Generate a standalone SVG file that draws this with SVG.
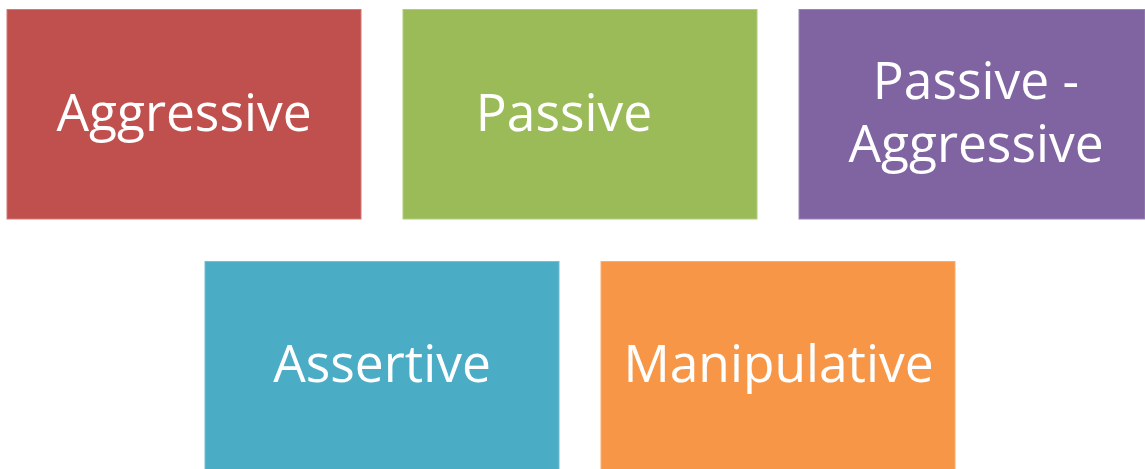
<svg xmlns="http://www.w3.org/2000/svg" width="1145" height="469" viewBox="0 0 1145 469">
  <style>
    .box { stroke-width: 1; }
    .label { font-family: "Open Sans", "Liberation Sans", sans-serif; font-size: 51.5px; fill: #ffffff; text-anchor: middle; }
  </style>
  <rect x="0" y="0" width="1145" height="469" fill="#ffffff"/>
  <g id="node-aggressive">
    <rect class="box" x="7" y="9.5" width="354" height="209.5" fill="#C0504D" stroke="#D07a77"/>
    <text class="label" x="184" y="131">Aggressive</text>
  </g>
  <g id="node-passive">
    <rect class="box" x="403" y="9.5" width="354" height="209.5" fill="#9BBB59" stroke="#b0cc7c"/>
    <text class="label" x="564" y="131">Passive</text>
  </g>
  <g id="node-passive-aggressive">
    <rect class="box" x="799" y="9.5" width="346" height="209.5" fill="#8064A2" stroke="#9a84b6"/>
    <text class="label"><tspan x="976" y="99">Passive -</tspan><tspan x="976" y="162">Aggressive</tspan></text>
  </g>
  <g id="node-assertive">
    <rect class="box" x="205" y="261.5" width="354" height="208" fill="#4BACC6" stroke="#72c0d4"/>
    <text class="label" x="382" y="382">Assertive</text>
  </g>
  <g id="node-manipulative">
    <rect class="box" x="601" y="261.5" width="354" height="208" fill="#F79646" stroke="#f9ad6e"/>
    <text class="label" x="778.5" y="382">Manipulative</text>
  </g>
  <g id="connectors"></g>
</svg>
